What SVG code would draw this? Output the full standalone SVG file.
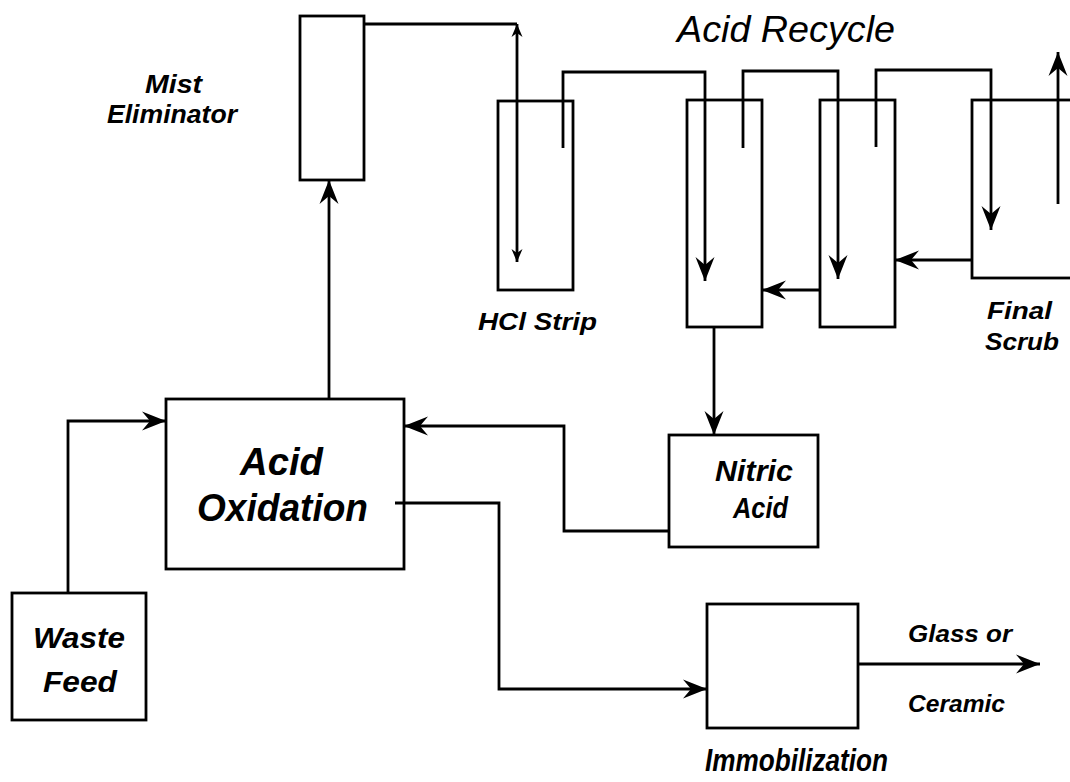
<svg xmlns="http://www.w3.org/2000/svg" width="1070" height="782" viewBox="0 0 1070 782">
<style>
.box{fill:none;stroke:#000;stroke-width:2.8}
.ln{fill:none;stroke:#000;stroke-width:2.8;stroke-linejoin:miter}
.t{font-family:"Liberation Sans",Arial,sans-serif;font-weight:bold;font-style:italic;fill:#000}
.tr{font-family:"Liberation Sans",Arial,sans-serif;font-style:italic;fill:#000}
</style>
<defs>
<marker id="ah" markerUnits="userSpaceOnUse" markerWidth="28" markerHeight="24" viewBox="-26 -12 28 24" refX="0" refY="0" orient="auto">
<path d="M0,0 L-24,-9.5 L-16,0 L-24,9.5 Z" fill="#000"/>
</marker>
<marker id="ahs" markerUnits="userSpaceOnUse" markerWidth="16" markerHeight="14" viewBox="-15 -7 16 14" refX="0" refY="0" orient="auto">
<path d="M0,0 L-13,-5.5 L-9,0 L-13,5.5 Z" fill="#000"/>
</marker>
<marker id="ahsStart" markerUnits="userSpaceOnUse" markerWidth="16" markerHeight="14" viewBox="-15 -7 16 14" refX="0" refY="0" orient="auto-start-reverse">
<path d="M0,0 L-13,-5.5 L-9,0 L-13,5.5 Z" fill="#000"/>
</marker>
</defs>
<rect width="1070" height="782" fill="#fff"/>

<g id="mist-eliminator">
<rect class="box" x="300" y="16" width="64" height="164"/>
<text class="t" x="145" y="93" font-size="26" textLength="57" lengthAdjust="spacingAndGlyphs">Mist</text>
<text class="t" x="107" y="123" font-size="26" textLength="130" lengthAdjust="spacingAndGlyphs">Eliminator</text>
</g>

<g id="acid-recycle-label">
<text class="tr" x="677" y="42" font-size="37" textLength="218" lengthAdjust="spacingAndGlyphs">Acid Recycle</text>
</g>

<g id="hcl-strip">
<rect class="box" x="498" y="101" width="75" height="189"/>
<text class="t" x="478" y="330" font-size="24" textLength="119" lengthAdjust="spacingAndGlyphs">HCl Strip</text>
</g>

<g id="scrubber-2">
<rect class="box" x="687" y="100" width="75" height="227"/>
</g>

<g id="scrubber-3">
<rect class="box" x="820" y="100" width="75" height="227"/>
</g>

<g id="final-scrub">
<rect class="box" x="972" y="100" width="110" height="178"/>
<text class="t" x="987" y="319" font-size="24" textLength="65" lengthAdjust="spacingAndGlyphs">Final</text>
<text class="t" x="985" y="350" font-size="24" textLength="74" lengthAdjust="spacingAndGlyphs">Scrub</text>
</g>

<g id="acid-oxidation">
<rect class="box" x="166" y="399" width="238" height="170"/>
<text class="t" x="240" y="475" font-size="38" textLength="83" lengthAdjust="spacingAndGlyphs">Acid</text>
<text class="t" x="197" y="521" font-size="38" textLength="171" lengthAdjust="spacingAndGlyphs">Oxidation</text>
</g>

<g id="nitric-acid">
<rect class="box" x="669" y="435" width="149" height="112"/>
<text class="t" x="715" y="481" font-size="29" textLength="78" lengthAdjust="spacingAndGlyphs">Nitric</text>
<text class="t" x="733" y="518" font-size="30" textLength="55" lengthAdjust="spacingAndGlyphs">Acid</text>
</g>

<g id="waste-feed">
<rect class="box" x="12" y="593" width="134" height="127"/>
<text class="t" x="33" y="648" font-size="30" textLength="92" lengthAdjust="spacingAndGlyphs">Waste</text>
<text class="t" x="43" y="692" font-size="30" textLength="74" lengthAdjust="spacingAndGlyphs">Feed</text>
</g>

<g id="immobilization">
<rect class="box" x="707" y="604" width="151" height="124"/>
<text class="t" x="705" y="771" font-size="31" textLength="183" lengthAdjust="spacingAndGlyphs">Immobilization</text>
</g>

<g id="product-label">
<text class="t" x="908" y="642" font-size="23" textLength="104" lengthAdjust="spacingAndGlyphs">Glass  or</text>
<text class="t" x="908" y="712" font-size="24" textLength="97" lengthAdjust="spacingAndGlyphs">Ceramic</text>
</g>

<g id="connectors">
<path class="ln" d="M68,593 V421 H166" marker-end="url(#ah)"/>
<path class="ln" d="M329,399 V180" marker-end="url(#ah)"/>
<path class="ln" d="M364,24 H517"/>
<path class="ln" d="M517,24 V262" marker-start="url(#ahsStart)" marker-end="url(#ahs)"/>
<path class="ln" d="M563,148 V72 H705 V281" marker-end="url(#ah)"/>
<path class="ln" d="M743,148 V71 H838 V279" marker-end="url(#ah)"/>
<path class="ln" d="M876,147 V70 H991 V230" marker-end="url(#ah)"/>
<path class="ln" d="M1058,204 V52" marker-end="url(#ah)"/>
<path class="ln" d="M972,260 H895" marker-end="url(#ah)"/>
<path class="ln" d="M820,290 H762" marker-end="url(#ah)"/>
<path class="ln" d="M714,327 V435" marker-end="url(#ah)"/>
<path class="ln" d="M669,531 H564 V426 H404" marker-end="url(#ah)"/>
<path class="ln" d="M395,503 H499 V689 H707" marker-end="url(#ah)"/>
<path class="ln" d="M858,664 H1040" marker-end="url(#ah)"/>
</g>
</svg>
